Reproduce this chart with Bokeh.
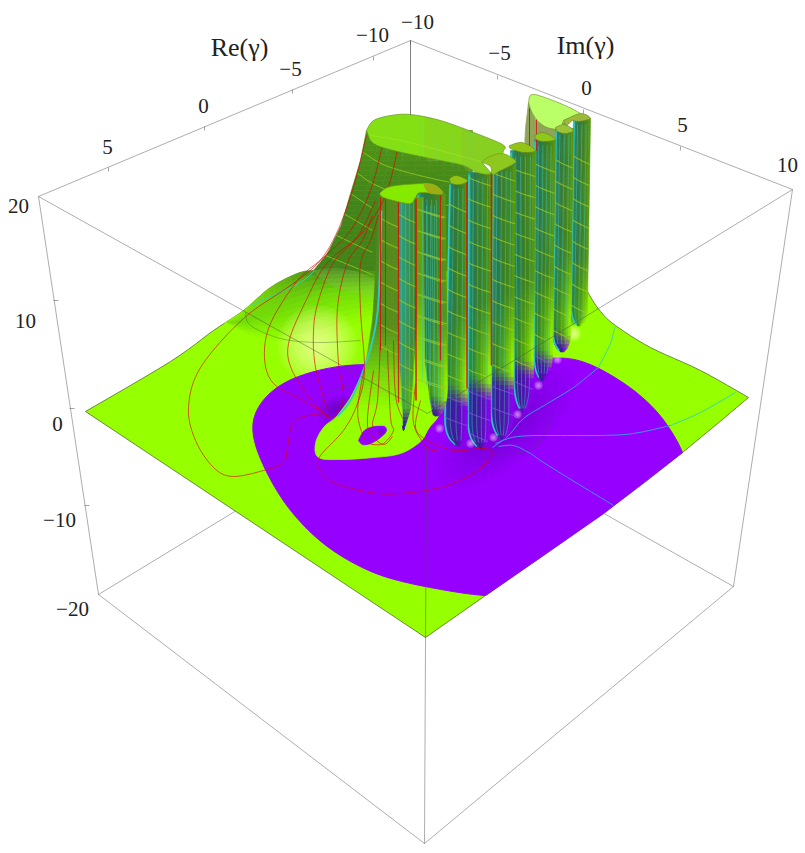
import numpy as np
from bokeh.plotting import figure
from bokeh.embed import file_html
from bokeh.resources import INLINE
from bokeh.core.properties import value

# ---- values (in picture pixels) ----
BOX_TOP_BACK = (410, 40); BOX_TOP_LEFT = (38, 196); BOX_TOP_RIGHT = (792, 189); BOX_TOP_FRONT = (427, 413)
BOX_BOT_LEFT = (98, 594); BOX_BOT_RIGHT = (733, 586); BOX_BOT_FRONT = (424, 843); BOX_BOT_BACK = (410, 404)

RE_TICK_LABELS = ["5", "0", "\u22125", "\u221210"]
RE_TICK_X = [107, 203, 290, 372]; RE_TICK_Y = [146, 105, 68, 34]
IM_TICK_LABELS = ["\u221210", "\u22125", "0", "5", "10"]
IM_TICK_X = [417, 499, 586, 682, 787]; IM_TICK_Y = [21, 52, 87, 124, 164]
Z_TICK_LABELS = ["20", "10", "0", "\u221210", "\u221220"]
Z_TICK_X = [18, 25, 57, 59, 72]; Z_TICK_Y = [205, 320, 423, 519, 608]
AXIS_TITLES = ["Re(\u03b3)", "Im(\u03b3)"]; TITLE_X = [239, 585]; TITLE_Y = [47, 45]

RE_MAJOR = [(108, 167), (204, 126), (292, 89), (373, 56)]
IM_MAJOR = [(410, 40), (497, 75), (583, 109), (680, 146)]
Z_MAJOR = [(53, 300), (69, 408), (84, 505)]

FLOOR_LEFT_EDGE = [(85, 411), (170, 361), (213, 330), (243, 310), (270, 287), (297, 273), (313, 270), (327, 253), (340, 227)]
FLOOR_RIGHT_EDGE = [(586, 285), (588, 293), (600, 311), (615, 325), (650, 347), (700, 370), (748, 397)]
FLOOR_FRONT_EDGE = [(748, 397), (682, 452), (603, 513), (485, 595), (425, 637)]
PURPLE_FRONT = [(682, 452), (603, 513), (485, 595)]

PURPLE_BOUNDARY = [(485, 595), (453, 592), (417, 584), (395, 580), (345, 562), (305, 528), (279, 497), (262, 463), (250, 433),
                   (255, 410), (270, 390), (297, 375), (330, 367), (363, 363), (400, 368), (450, 390), (490, 380), (515, 366),
                   (540, 358), (567, 357), (590, 363), (620, 380), (647, 400), (670, 427), (682, 452)]
TONGUE = [(372, 345), (362, 372), (350, 397), (337, 415), (323, 427), (315, 443), (318, 457), (340, 459), (373, 457), (400, 453),
          (420, 441), (428, 428), (440, 410), (440, 370), (400, 350)]
HOLE = [(358, 440), (363, 431), (370, 427), (382, 425), (386, 430), (380, 437), (370, 443), (362, 444)]

HUMP_TOP = [(225, 322), (243, 310), (270, 287), (297, 273), (313, 270), (345, 270), (375, 270)]
HUMP_LOW = [(225, 322), (250, 335), (285, 340), (320, 335), (350, 325), (378, 318), (378, 315)]

WALL_Y = [130, 160, 193, 227, 253, 270]
WALL_X = [366, 360, 350, 340, 327, 313]

PLATEAU = [(366, 130), (373, 120), (390, 115), (410, 114), (440, 120), (473, 132), (502, 144), (503, 150), (500, 155), (487, 158),
           (482, 162), (490, 173), (477, 172), (463, 165), (440, 160), (397, 151), (373, 143)]
PLATEAU_SHADE = [(425, 117), (440, 120), (473, 132), (502, 144), (503, 150), (487, 158), (482, 162), (490, 173), (477, 172), (463, 165), (440, 160), (425, 157)]
PLATEAU_SHADE2 = [(462, 127), (473, 132), (502, 144), (503, 150), (487, 158), (482, 162), (490, 173), (477, 172), (463, 165)]
PLATEAU_BACK = [(528, 102), (535, 94), (580, 113), (563, 120), (562, 128), (550, 128), (540, 123), (532, 113)]
TUBE_BACK = [(528, 102), (526, 150), (555, 150), (565, 130), (563, 122), (540, 123), (532, 113)]
LIP_TOP = [(379, 193), (390, 186), (423, 183), (435, 185), (442, 193), (420, 192), (415, 197), (410, 203), (397, 201), (383, 197)]
TOP_M = [(482, 162), (487, 157), (502, 153), (515, 160), (512, 164), (500, 170), (492, 174), (490, 166)]
TOP_K = [(449, 178), (456, 175), (467, 180), (460, 184), (451, 183)]
TOP_N = [(509, 145), (522, 142), (535, 150), (523, 152), (510, 148)]
TOP_O = [(534, 135), (543, 132), (555, 139), (543, 141), (536, 139)]
TOP_P = [(555, 127), (564, 124), (573, 130), (565, 133), (557, 131)]
TOP_Q = [(563, 120), (580, 113), (590, 118), (578, 121), (572, 120), (566, 125)]

COL_TOP_Y = [118, 128, 139, 150, 165, 172, 182, 193]
COL_XL_TOP = [573, 555, 534, 510, 492, 468, 449, 417]
COL_XR_TOP = [590, 573, 555, 535, 515, 492, 467, 445]
COL_Y_MID = [305, 330, 352, 377, 407, 420, 418, 385]
COL_XL_MID = [570, 552, 533, 513, 490, 467, 444, 420]
COL_XR_MID = [587, 570, 552, 533, 513, 490, 467, 447]
COL_TIP_X = [579, 562, 542, 522, 502, 482, 459, 437]
COL_TIP_Y = [326, 352, 381, 411, 439, 449, 446, 416]
COL_YB = [345, 338, 356, 366, 378, 386, 394, 402]

A2_EDGE_Y = [197, 300, 370, 410, 430]; A2_L = [398, 398, 397, 398, 403]; A2_R = [415, 417, 413, 410, 403]
A25_EDGE_Y = [197, 360, 400, 420, 438]; A25_L = [415, 417, 413, 408, 415]; A25_R = [423, 424, 429, 433, 422]
A1_EDGE_Y = [193, 290, 320, 365, 395, 415, 425]; A1_L = [379, 374, 372, 365, 352, 337, 330]; A1_R = [398, 398, 398, 399, 401, 402, 402]

R_CURVES = [
    [(366, 135), (352, 190), (335, 235), (317, 263), (290, 285), (243, 318), (200, 367), (188, 407), (195, 440), (213, 467), (232, 476),
     (263, 470), (283, 462), (287, 447), (292, 423), (307, 415), (323, 415), (330, 418)],
    [(382, 145), (370, 190), (350, 230), (323, 257), (297, 280), (270, 323), (264, 357), (273, 383), (303, 400), (327, 415)],
    [(397, 150), (385, 195), (362, 232), (327, 262), (307, 297), (288, 343), (293, 373), (317, 407), (330, 417)],
    [(375, 200), (358, 235), (333, 262), (318, 300), (313, 330), (315, 367), (327, 410)],
    [(372, 215), (362, 240), (347, 262), (337, 307), (338, 363), (343, 397), (333, 417)],
    [(378, 215), (370, 240), (360, 263), (360, 310), (364, 370), (357, 403), (343, 430), (320, 455), (318, 467), (333, 482), (370, 492),
     (400, 493), (440, 487), (473, 473), (490, 457), (490, 450), (480, 448), (453, 450), (427, 440), (415, 427), (420, 400)],
]
R_FLARE = [
    [(364, 367), (358, 400), (358, 420), (365, 440), (373, 444)],
    [(373, 370), (367, 417), (370, 433), (383, 444), (392, 436)],
    [(387, 350), (390, 417), (393, 430), (383, 443), (372, 444)],
    [(415, 383), (413, 423), (427, 447), (437, 450)],
    [(380, 340), (377, 400), (372, 425), (381, 434)],
    [(393, 340), (395, 395), (402, 418)],
]
C_PURPLE = [
    [(492, 447), (508, 435), (523, 418), (547, 403), (573, 387), (598, 367)],
    [(495, 443), (517, 436), (560, 435), (600, 435), (633, 433), (670, 425)],
    [(498, 446), (513, 445), (530, 453), (540, 460), (567, 477), (600, 497), (613, 505)],
]
C_GREEN = [
    [(598, 367), (610, 343), (613, 332), (615, 325)],
    [(670, 425), (700, 412), (735, 392)],
    [(250, 305), (277, 293), (303, 280), (317, 267)],
]
HUMP_CONTOURS = [[(245, 312), (250, 325), (280, 338), (317, 342), (360, 340)], [(320, 407), (327, 392), (350, 385)],
                 [(490, 453), (520, 452), (540, 440), (550, 417)]]
RED_X = [491, 466.5, 415.5, 440, 380, 385, 398, 529, 536]
RED_TOP = [173, 180, 198, 195, 197, 198, 200, 108, 115]
RED_BOT = [365, 388, 400, 360, 350, 345, 402, 150, 150]
RED_W = [1.6, 1.6, 1.7, 1.1, 1.0, 0.9, 1.3, 1.0, 0.9]
GLOW_SOFT_X = [317, 357, 573]; GLOW_SOFT_Y = [345, 418, 333]; GLOW_SOFT_R = [40, 16, 8]
PINK_X = [557, 538, 517, 493, 470, 439]; PINK_Y = [359, 385, 414, 437, 443, 428]


# ---- helpers for drawing ----
def sm(pts, n=6):
    p_ = np.array(pts, float)
    P = np.vstack([p_[0], p_, p_[-1]])
    out = []
    for i in range(1, len(P) - 2):
        for t in np.linspace(0, 1, n, endpoint=False):
            a, b, c, d = P[i - 1], P[i], P[i + 1], P[i + 2]
            out.append(0.5 * (2 * b + (c - a) * t + (2 * a - 5 * b + 4 * c - d) * t ** 2 + (3 * b - a - 3 * c + d) * t ** 3))
    out.append(P[-2])
    return np.array(out)


def soften(a, w=9):
    k = np.ones(w) / w
    pad = w // 2
    b = np.vstack([np.repeat(a[:1], pad, 0), a, np.repeat(a[-1:], pad, 0)])
    return np.column_stack([np.convolve(b[:, 0], k, "valid"), np.convolve(b[:, 1], k, "valid")])


def closed(pts, n=6):
    q = list(pts)
    s = sm(q + q[:1], n)
    return list(s[:, 0]), list(s[:, 1])


def hx(c):
    return "#%02x%02x%02x" % tuple(int(max(0, min(255, round(v)))) for v in c)


def blend(a, b, t):
    return np.array(a, float) * (1 - t) + np.array(b, float) * t


def stops(u, table):
    us = [0, .08, .25, .6, .85, 1]
    return np.array([np.interp(u, us, [row[i] for row in table]) for i in range(3)])


UP = [(40, 190, 175), (38, 138, 112), (44, 118, 72), (60, 128, 36), (74, 138, 24), (90, 158, 15)]
LOW = [(45, 190, 135), (45, 130, 70), (55, 135, 36), (90, 170, 14), (130, 220, 0), (150, 250, 0)]
PUR = [(50, 120, 210), (48, 55, 165), (52, 32, 148), (76, 22, 168), (118, 8, 220), (145, 0, 250)]


def col_color(u, y, yb):
    w = np.clip((y - (yb - 85)) / 65, 0, 1)
    c = blend(stops(u, UP), stops(u, LOW), w)
    e = yb + 10 * (u - .5)
    t = np.clip((y - (e - 8)) / 18, 0, 1)
    return blend(c, stops(u, PUR), t)


p = figure(width=805, height=853, x_range=(0, 805), y_range=(853, 0), toolbar_location=None,
           output_backend="svg", min_border=0)
p.axis.visible = False
p.grid.visible = False
p.outline_line_color = None
p.background_fill_color = "white"
p.border_fill_color = "white"


def seg(a, b, **k):
    p.line([a[0], b[0]], [a[1], b[1]], **k)


def mesh(quads, colors, alpha=1.0):
    xs = [q[0] for q in quads]; ys = [q[1] for q in quads]
    p.patches(xs, ys, fill_color=colors, line_color=colors, line_width=0.6, fill_alpha=alpha, line_alpha=alpha)


def poly(pts, color, alpha=1.0, n=6, line=None, lw=0.8):
    x, y = closed(pts, n)
    p.patch(x, y, fill_color=color, fill_alpha=alpha, line_color=line if line else color, line_width=lw,
            line_alpha=alpha if not line else 0.8)


def curve(pts, color, width=0.9, alpha=1.0, n=6):
    s = sm(pts, n)
    p.line(s[:, 0], s[:, 1], line_color=color, line_width=width, line_alpha=alpha)


def ell(cx, cy, a, b, deg, color, alpha):
    th = np.linspace(0, 2 * np.pi, 40)
    r = np.radians(deg)
    x = cx + a * np.cos(th) * np.cos(r) - b * np.sin(th) * np.sin(r)
    y = cy + a * np.cos(th) * np.sin(r) + b * np.sin(th) * np.cos(r)
    p.patch(x, y, fill_color=color, fill_alpha=alpha, line_color=None)


GRID_GRAY = "#aeaeae"
for a, b in [(BOX_BOT_LEFT, BOX_BOT_BACK), (BOX_BOT_RIGHT, BOX_BOT_BACK), (BOX_TOP_BACK, BOX_BOT_BACK)]:
    seg(a, b, line_color=GRID_GRAY, line_width=1)

# ---- floor ----
GREEN = "#96ff00"; PURPLE = "#9600ff"
left = sm(FLOOR_LEFT_EDGE); right = sm(FLOOR_RIGHT_EDGE); front = sm(FLOOR_FRONT_EDGE, 2)
fx = list(left[:, 0]) + [420, 500] + list(right[:, 0]) + list(front[:, 0])
fy = list(left[:, 1]) + [170, 200] + list(right[:, 1]) + list(front[:, 1])
p.patch(fx, fy, fill_color=GREEN, line_color="#5f7f2a", line_width=0.9)

top = sm(HUMP_TOP, 8); low = sm(HUMP_LOW, 8)
n = 32
si = np.linspace(0, 1, n)
tx = np.interp(si, np.linspace(0, 1, len(top)), top[:, 0]); ty = np.interp(si, np.linspace(0, 1, len(top)), top[:, 1])
lx = np.interp(si, np.linspace(0, 1, len(low)), low[:, 0]); ly = np.interp(si, np.linspace(0, 1, len(low)), low[:, 1])
ts = np.linspace(0, 1, 13)
quads, cols = [], []
for i in range(n - 1):
    for j in range(len(ts) - 1):
        t0, t1 = ts[j], ts[j + 1]
        qx = [tx[i] + (lx[i] - tx[i]) * t0, tx[i + 1] + (lx[i + 1] - tx[i + 1]) * t0, tx[i + 1] + (lx[i + 1] - tx[i + 1]) * t1, tx[i] + (lx[i] - tx[i]) * t1]
        qy = [ty[i] + (ly[i] - ty[i]) * t0, ty[i + 1] + (ly[i + 1] - ty[i + 1]) * t0, ty[i + 1] + (ly[i + 1] - ty[i + 1]) * t1, ty[i] + (ly[i] - ty[i]) * t1]
        s = np.clip((tx[i] - 225) / 85, 0, 1)
        tm = (t0 + t1) / 2
        dark = blend((150, 250, 0), (72, 140, 28), s)
        c = blend(dark, (112, 218, 10), min(1, tm / .42)) if tm < .42 else blend((112, 218, 10), (150, 255, 0), (tm - .42) / .58)
        quads.append((qx, qy)); cols.append(hx(c))
mesh(quads, cols)

for (xx, yy, rr) in zip(GLOW_SOFT_X, GLOW_SOFT_Y, GLOW_SOFT_R):
    for f in np.linspace(1, .08, 12):
        p.scatter([xx], [yy], size=2 * rr * f, fill_color="#ffffb0", fill_alpha=0.10, line_color=None)

pb = soften(sm(PURPLE_BOUNDARY, 6), 11)
x_ = list(pb[:, 0]) + [q[0] for q in PURPLE_FRONT]
y_ = list(pb[:, 1]) + [q[1] for q in PURPLE_FRONT]
p.patch(x_, y_, fill_color=PURPLE, line_color=PURPLE, line_width=1)
poly(TONGUE, GREEN)
poly(HOLE, PURPLE)
for f in np.linspace(1, .2, 8):
    ell(505, 425, 85 * f, 38 * f, -40, "#3c0078", 0.04)
    ell(335, 408, 20 * f, 12 * f, -30, "#3c0078", 0.05)
    ell(381, 431, 5 * f, 5 * f, -25, "#3c0078", 0.04)
for f in np.linspace(1, .3, 6):
    ell(572, 318, 9 * f, 7 * f, 0, "#2c7a10", 0.12)

for c in C_PURPLE:
    curve(c, "#3f96e6", 1.0)
for c in C_GREEN:
    curve(c, "#35d8a8", 1.0)
for c in HUMP_CONTOURS:
    curve(c, "#2b5a30", 0.8, 0.45)

# ---- back tube ----
poly(TUBE_BACK, "#8fa458", 1, 4)

# ---- big wall behind the columns ----
quads, cols = [], []
yy = np.arange(130, 271, 5.0)
us = np.linspace(0, 1, 9)
for a, b in zip(yy[:-1], yy[1:]):
    xa, xb = np.interp(a, WALL_Y, WALL_X), np.interp(b, WALL_Y, WALL_X)
    for i in range(len(us) - 1):
        x0a = xa + (472 - xa) * us[i]; x1a = xa + (472 - xa) * us[i + 1]
        x0b = xb + (472 - xb) * us[i]; x1b = xb + (472 - xb) * us[i + 1]
        c = blend((80, 150, 22), (66, 132, 26), min(1, (a - 130) / 70))
        quads.append(([x0a, x1a, x1b, x0b], [a, a, b, b])); cols.append(hx(c))
mesh(quads, cols)
poly([(313, 270), (335, 268), (357, 272), (377, 283), (377, 298), (357, 292), (337, 287), (322, 278)], "#a8c878", 0.18)

for c in [[(363, 152), (385, 165), (423, 176), (470, 186)], [(356, 172), (378, 186), (420, 200), (470, 208)],
          [(350, 193), (372, 208)], [(343, 213), (372, 230)], [(336, 235), (372, 252)], [(325, 255), (372, 274)]]:
    curve(c, "#a3d220", 1.0, 0.7)

# ---- columns, from the back forward ----
for k in range(len(COL_TOP_Y)):
    y0, tip = COL_TOP_Y[k], COL_TIP_Y[k]
    ym = COL_Y_MID[k]
    def edges(y):
        if y <= ym:
            f = (y - y0) / (ym - y0)
            return COL_XL_TOP[k] + (COL_XL_MID[k] - COL_XL_TOP[k]) * f, COL_XR_TOP[k] + (COL_XR_MID[k] - COL_XR_TOP[k]) * f
        s = min(1, (y - ym) / (tip - ym))
        g = (1 - s ** 2.4) ** .6
        return COL_TIP_X[k] + (COL_XL_MID[k] - COL_TIP_X[k]) * g, COL_TIP_X[k] + (COL_XR_MID[k] - COL_TIP_X[k]) * g
    rows = list(np.arange(y0, tip - 1, 4.0)) + [tip - .5]
    us = np.linspace(0, 1, 10)
    quads, cols = [], []
    for a, b in zip(rows[:-1], rows[1:]):
        la, ra = edges(a); lb, rb = edges(b)
        for i in range(len(us) - 1):
            u0, u1 = us[i], us[i + 1]
            quads.append(([la + (ra - la) * u0, la + (ra - la) * u1, lb + (rb - lb) * u1, lb + (rb - lb) * u0], [a, a, b, b]))
            cols.append(hx(col_color((u0 + u1) / 2, (a + b) / 2, COL_YB[k])))
    mesh(quads, cols)
    w = COL_XR_TOP[k] - COL_XL_TOP[k]
    m = max(3, int(round(w / 4.6)))
    sx, sy = [], []
    for u in np.linspace(0, 1, m + 1)[0:-1]:
        r = np.arange(y0 + 6, tip - 2, 6.0)
        e = np.array([edges(v) for v in r])
        sx.append(list(e[:, 0] + (e[:, 1] - e[:, 0]) * u)); sy.append(list(r))
    p.multi_line(sx, sy, line_color="#3fc8c0", line_width=0.8, line_alpha=0.6)
    r = np.arange(y0 + 2, tip - 1, 4.0)
    e = np.array([edges(v) for v in r])
    p.line(e[:, 0] + .6, r, line_color="#30d8cc", line_width=1.4, line_alpha=.85)
    xc = (COL_XL_MID[k] + COL_XR_MID[k]) / 2
    us2 = np.linspace(0, 1, 9)
    for lvl in range(0, 14):
        base = 183 + 21.3 * lvl - .22 * (xc - 450)
        if base < y0 + 4 or base > tip - 12:
            continue
        ly_ = base + 9 * us2 ** .8
        ee = np.array([edges(v) for v in ly_])
        lx_ = ee[:, 0] + (ee[:, 1] - ee[:, 0]) * us2
        purple = base + 4 > COL_YB[k]
        p.line(lx_, ly_, line_color="#7f58d8" if purple else "#a0cc22", line_width=1.1, line_alpha=.7 if purple else .75)


def edge_mesh(Y, L, R, colorf, nu=8):
    rows = np.arange(Y[0], Y[-1], 4.0)
    if rows[-1] < Y[-1]:
        rows = np.append(rows, Y[-1])
    us = np.linspace(0, 1, nu + 1)
    quads, cols = [], []
    for a, b in zip(rows[:-1], rows[1:]):
        la, ra = np.interp(a, Y, L), np.interp(a, Y, R)
        lb, rb = np.interp(b, Y, L), np.interp(b, Y, R)
        for i in range(nu):
            u0, u1 = us[i], us[i + 1]
            quads.append(([la + (ra - la) * u0, la + (ra - la) * u1, lb + (rb - lb) * u1, lb + (rb - lb) * u0], [a, a, b, b]))
            cols.append(hx(colorf((u0 + u1) / 2, (a + b) / 2)))
    mesh(quads, cols)


def a2_color(u, y):
    c = blend((38, 165, 145), (70, 130, 45), u)
    c = blend(c, blend((45, 150, 110), (90, 170, 30), u), np.clip((y - 340) / 50, 0, 1))
    return blend(c, (50, 40, 170), np.clip((y - 408) / 14, 0, 1))


def a25_color(u, y):
    return blend((100, 160, 15), (152, 255, 0), np.clip((y - 285) / 105, 0, 1))


def a1_color(u, y):
    c = blend((78, 138, 34), (92, 140, 28), u)
    c = blend(c, (112, 205, 15), np.clip((y - 325) / 45, 0, 1))
    return blend(c, (150, 255, 0), np.clip((y - 365) / 45, 0, 1))


edge_mesh(A2_EDGE_Y, A2_L, A2_R, a2_color)
edge_mesh(A25_EDGE_Y, A25_L, A25_R, a25_color, 4)
edge_mesh(A1_EDGE_Y, A1_L, A1_R, a1_color, 10)

for lvl in range(0, 9):
    for xa, xb in [(380, 398), (398, 416), (417, 443)]:
        base = 183 + 21.3 * (lvl + 1) - .22 * ((xa + xb) / 2 - 450)
        if base > 395:
            continue
        curve([(xa, base), ((xa + xb) / 2, base + 5), (xb, base + 9)], "#a0cc22", 1.1, .75, 4)
for x0, ya, yb_ in [(401, 200, 405), (405, 200, 410), (409, 200, 405), (413, 200, 395), (422, 200, 380), (426, 205, 385), (430, 205, 385), (434, 205, 395)]:
    p.line([x0, x0], [ya, yb_], line_color="#3fc8c0", line_width=.8, line_alpha=.55)
curve([(381, 210), (378, 300), (372, 340), (362, 372), (350, 400), (337, 416)], "#28d2c8", 1.8, .95)

for x0, a, b, w in zip(RED_X, RED_TOP, RED_BOT, RED_W):
    p.line([x0, x0], [a, b], line_color="#dd0a0a", line_width=w, line_alpha=.85)

for c in R_CURVES:
    curve(c, "#e00000", 0.9, .7)
for c in R_FLARE:
    curve(c, "#e00000", 0.9, .7)

# ---- top faces ----
poly(PLATEAU, "#84e012", 1, 5, "#5e8a1c", .8)
poly(PLATEAU_SHADE, "#8db838", .22, 5)
poly(PLATEAU_SHADE2, "#8db838", .25, 5)
for i, xv in enumerate([387, 403, 420, 437, 453, 470]):
    p.line([xv, xv - 1], [118 + max(0, xv - 430) * .3, 155 + max(0, xv - 400) * .22], line_color="#4fd09a", line_width=.8, line_alpha=.3)
curve([(370, 135), (400, 140), (440, 150), (480, 161)], "#c6ef30", 1, .35)
poly(PLATEAU_BACK, "#baff68", 1, 4, "#6e8e28", .8)
poly(LIP_TOP, "#85ea00", 1, 5, "#6f9a1a", .8)
poly([(423, 183), (435, 185), (442, 193), (428, 192)], "#9aae14", 1, 4)
poly(TOP_M, "#8ec81e", 1, 5, "#6f9a1a", .8)
for q, col in [(TOP_K, "#93c414"), (TOP_N, "#93c414"), (TOP_O, "#8fc81a"), (TOP_P, "#9cc23a"), (TOP_Q, "#9db83a")]:
    poly(q, col, 1, 5, "#5e8a1c", .8)

# ---- small highlights at the bases ----
for xx, yy in zip(PINK_X, PINK_Y):
    for f in np.linspace(1, .2, 7):
        p.scatter([xx], [yy], size=9 * f, fill_color="#f6c8ff", fill_alpha=.13, line_color=None)

# ---- frame ----
FRAME = "#4d4d4d"
for a, b in [(BOX_TOP_BACK, BOX_TOP_LEFT), (BOX_TOP_BACK, BOX_TOP_RIGHT), (BOX_TOP_LEFT, BOX_TOP_FRONT), (BOX_TOP_RIGHT, BOX_TOP_FRONT),
             (BOX_TOP_LEFT, BOX_BOT_LEFT), (BOX_TOP_RIGHT, BOX_BOT_RIGHT), (BOX_BOT_LEFT, BOX_BOT_FRONT), (BOX_BOT_RIGHT, BOX_BOT_FRONT)]:
    seg(a, b, line_color=FRAME, line_width=1, line_alpha=.46)
seg((426, 447), BOX_BOT_FRONT, line_color=FRAME, line_width=1, line_alpha=.46)
seg(BOX_TOP_BACK, (410, 114), line_color=FRAME, line_width=1, line_alpha=.46)

tx_, ty_ = [], []
for (xa, ya) in RE_MAJOR + IM_MAJOR:
    tx_.append([xa, xa]); ty_.append([ya, ya + 4])
for (xa, ya) in Z_MAJOR:
    tx_.append([xa, xa + 5]); ty_.append([ya, ya])
p.multi_line(tx_, ty_, line_color=FRAME, line_width=1, line_alpha=.5)

# ---- texts ----
SERIF = value("Liberation Serif")
for X, Y, L in [(RE_TICK_X, RE_TICK_Y, RE_TICK_LABELS), (IM_TICK_X, IM_TICK_Y, IM_TICK_LABELS), (Z_TICK_X, Z_TICK_Y, Z_TICK_LABELS)]:
    p.text(X, Y, text=L, text_font=SERIF, text_font_size="21px", text_align="center", text_baseline="middle", text_color="#222222")
p.text(TITLE_X, TITLE_Y, text=AXIS_TITLES, text_font=SERIF, text_font_size="26px", text_align="center", text_baseline="middle", text_color="#222222")

open("out.html", "w").write(file_html(p, INLINE))
